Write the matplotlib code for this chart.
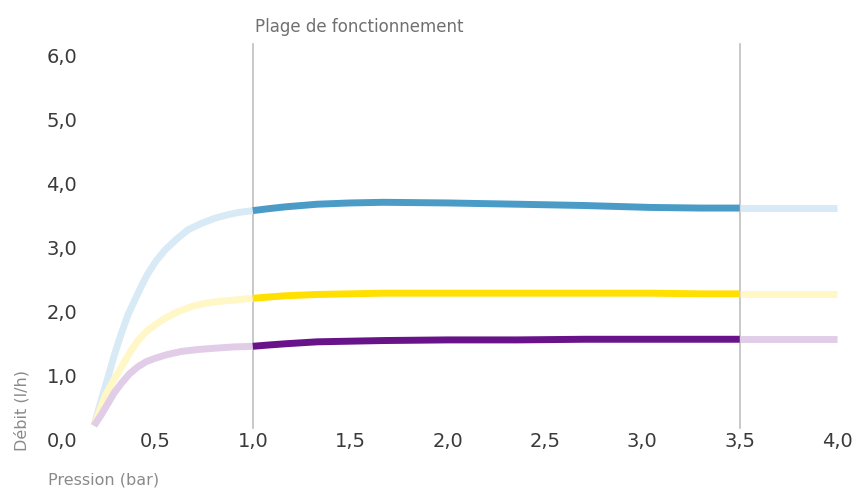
import matplotlib.pyplot as plt

# rising part (light colours), 0 -> 1.0 bar
x_rise_b = [0.185, 0.222, 0.257, 0.291, 0.325, 0.359, 0.394, 0.428, 0.462, 0.505,
            0.548, 0.607, 0.667, 0.736, 0.804, 0.864, 0.924, 1.0]
blue_rise = [0.24, 0.64, 1.0, 1.36, 1.68, 1.97, 2.2, 2.42, 2.62, 2.82,
             2.98, 3.15, 3.30, 3.40, 3.48, 3.53, 3.57, 3.60]
x_rise_y = [0.185, 0.24, 0.282, 0.325, 0.368, 0.41, 0.453, 0.496, 0.556, 0.616,
            0.684, 0.753, 0.821, 0.89, 1.0]
yellow_rise = [0.24, 0.69, 0.93, 1.15, 1.38, 1.57, 1.71, 1.81, 1.93, 2.02,
               2.10, 2.15, 2.18, 2.20, 2.23]
x_rise_p = [0.185, 0.222, 0.257, 0.29, 0.325, 0.367, 0.41, 0.453, 0.496, 0.56,
            0.633, 0.72, 0.804, 0.9, 1.0]
purple_rise = [0.24, 0.41, 0.59, 0.76, 0.90, 1.05, 1.16, 1.24, 1.29, 1.35,
               1.40, 1.43, 1.45, 1.47, 1.48]

# operating range (dark colours), 1.0 -> 3.5 bar
x_range = [1.0, 1.08, 1.17, 1.25, 1.33, 1.5, 1.67, 2.0, 2.36, 2.7, 3.04, 3.3, 3.5]
blue_range = [3.60, 3.63, 3.66, 3.68, 3.70, 3.72, 3.73, 3.72, 3.70, 3.68, 3.65, 3.64, 3.64]
yellow_range = [2.23, 2.25, 2.27, 2.28, 2.29, 2.30, 2.31, 2.31, 2.31, 2.31, 2.31, 2.30, 2.30]
purple_range = [1.48, 1.50, 1.52, 1.535, 1.55, 1.56, 1.57, 1.58, 1.58, 1.59, 1.59, 1.59, 1.59]

# tail (light colours), 3.5 -> 4.0 bar
x_tail = [3.5, 4.0]
blue_tail = [3.64, 3.64]
yellow_tail = [2.30, 2.30]
purple_tail = [1.59, 1.59]

x_ticks = [0.5, 1.0, 1.5, 2.0, 2.5, 3.0, 3.5, 4.0]
y_ticks = [0, 1, 2, 3, 4, 5, 6]
range_limits = [1.0, 3.5]

dark = {'blue': '#4a9cc7', 'yellow': '#ffe000', 'purple': '#68138a'}
light = {'blue': '#d8eaf5', 'yellow': '#fff7c6', 'purple': '#e1cde7'}

fig = plt.figure(figsize=(8.6, 4.9), dpi=100)
ax = fig.add_axes([0.0108, 0.0216, 0.9853, 0.9665])
ax.set_xlim(-0.25, 4.1)
ax.set_ylim(-0.6, 6.8)
ax.axis('off')

# vertical limits of operating range
for v in range_limits:
    ax.plot([v, v], [0.2, 6.2], color='#c4c4c4', lw=1.3, zorder=1)

lw = 5
style = dict(lw=lw, solid_capstyle='butt', solid_joinstyle='round')
ax.plot(x_rise_b, blue_rise, color=light['blue'], zorder=2, **style)
ax.plot(x_rise_y, yellow_rise, color=light['yellow'], zorder=2, **style)
ax.plot(x_rise_p, purple_rise, color=light['purple'], zorder=2, **style)

ax.plot(x_tail, blue_tail, color=light['blue'], zorder=2, **style)
ax.plot(x_tail, yellow_tail, color=light['yellow'], zorder=2, **style)
ax.plot(x_tail, purple_tail, color=light['purple'], zorder=2, **style)

ax.plot(x_range, blue_range, color=dark['blue'], zorder=3, **style)
ax.plot(x_range, yellow_range, color=dark['yellow'], zorder=3, **style)
ax.plot(x_range, purple_range, color=dark['purple'], zorder=3, **style)

# tick labels drawn in data space (french decimal comma)
for v in y_ticks:
    ax.text(0.02, v, f'{v:.1f}'.replace('.', ','), fontsize=14, color='#3a3a3a',
            ha='center', va='center')
for v in x_ticks:
    ax.text(v, 0, f'{v:.1f}'.replace('.', ','), fontsize=14, color='#3a3a3a',
            ha='center', va='center')

ax.text(1.01, 6.47, 'Plage de fonctionnement', fontsize=12, color='#707070',
        ha='left', va='center')

fig.text(0.056, 0.0204, 'Pression (bar)', fontsize=11.5, color='#8a8a8a',
         ha='left', va='center')
fig.text(0.0256, 0.163, 'Débit (l/h)', fontsize=11.5, color='#8a8a8a',
         rotation=90, ha='center', va='center')

plt.savefig('out.png', dpi=100)
